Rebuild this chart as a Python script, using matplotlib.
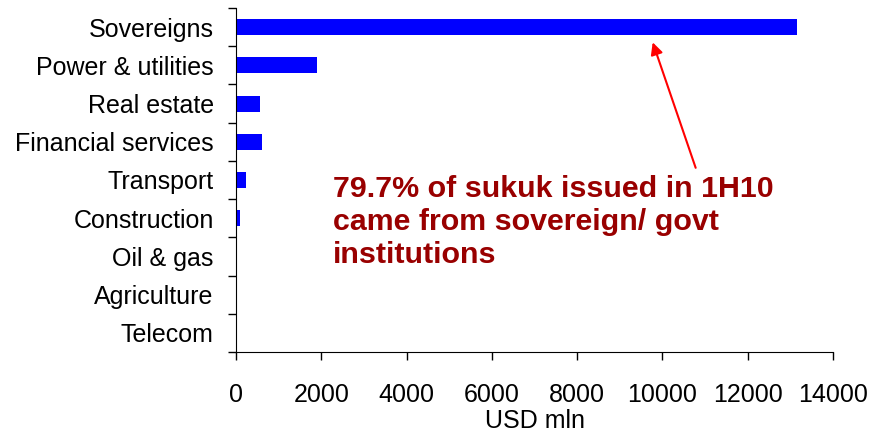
import numpy as np
from matplotlib import pyplot as plt

plt.rcParams['font.family'] = ['Liberation Sans', 'DejaVu Sans']

# sukuk issuance by sector, 1H10
sectors = ['Sovereigns', 'Power & utilities', 'Real estate', 'Financial services',
           'Transport', 'Construction', 'Oil & gas', 'Agriculture', 'Telecom']
usd_mln = [13150, 1900, 560, 610, 230, 100, 0, 0, 0]
xticks = [0, 2000, 4000, 6000, 8000, 10000, 12000, 14000]

fig = plt.figure(figsize=(8.69, 4.32), dpi=100)
ax = fig.add_axes([0.2716, 0.1852, 0.6870, 0.7963])

y = np.arange(len(sectors))
ax.barh(y, usd_mln, height=0.42, color='#0000ff')
ax.set_ylim(len(sectors) - 0.5, -0.5)
ax.set_xlim(0, 14000)

# category labels without tick marks, tick marks on boundaries
ax.set_yticks(y)
ax.set_yticklabels(sectors, fontsize=18)
ax.tick_params(axis='y', length=0, pad=16)
ax.set_yticks(np.arange(len(sectors) + 1) - 0.5, minor=True)
ax.tick_params(axis='y', which='minor', length=6, width=1, direction='out')

ax.set_xticks(xticks)
ax.set_xticklabels([str(t) for t in xticks], fontsize=18)
ax.tick_params(axis='x', length=6, width=1, direction='out', pad=16)
ax.set_xlabel('USD mln', fontsize=18, labelpad=2)

ax.spines['top'].set_visible(False)
ax.spines['right'].set_visible(False)

ax.text(0.163, 0.515,
        '79.7% of sukuk issued in 1H10\ncame from sovereign/ govt\ninstitutions',
        transform=ax.transAxes, fontsize=21.9, fontweight='bold', color='#990000',
        va='top', ha='left', linespacing=1.22)
ax.annotate('', xy=(9750, 0.33), xytext=(10800, 3.75),
            arrowprops=dict(arrowstyle='-|>', color='red', lw=1.5, mutation_scale=18))

fig.savefig('out.png', dpi=100)
